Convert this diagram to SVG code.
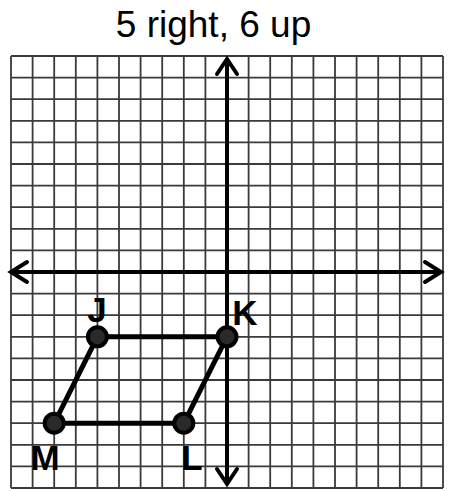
<svg xmlns="http://www.w3.org/2000/svg" width="450" height="491" viewBox="0 0 450 491">
<style>
.grid{stroke:#3a3a3a;stroke-width:1.8;fill:none}
.axis{stroke:#000;stroke-width:4;fill:none}
.arr{stroke:#000;stroke-width:4;fill:none;stroke-linecap:round;stroke-linejoin:miter}
.side{stroke:#000;stroke-width:5;fill:none}
.dot{fill:#2a2a2a;stroke:#000;stroke-width:4}
.lbl{font-family:"Liberation Sans",Arial,sans-serif;font-weight:bold;font-size:35px;fill:#000}
.title{font-family:"Liberation Sans",Arial,sans-serif;font-size:37px;fill:#000}
</style>
<rect width="450" height="491" fill="#fff"/>
<text class="title" x="213.5" y="37" text-anchor="middle">5 right, 6 up</text>
<g id="grid">
<path class="grid" d="M11 56V488M32.6 56V488M54.2 56V488M75.8 56V488M97.4 56V488M119 56V488M140.6 56V488M162.2 56V488M183.8 56V488M205.4 56V488M248.6 56V488M270.2 56V488M291.8 56V488M313.4 56V488M335 56V488M356.6 56V488M378.2 56V488M399.8 56V488M421.4 56V488M443 56V488
M11 56H443M11 77.6H443M11 99.2H443M11 120.8H443M11 142.4H443M11 164H443M11 185.6H443M11 207.2H443M11 228.8H443M11 250.4H443M11 293.6H443M11 315.2H443M11 336.8H443M11 358.4H443M11 380H443M11 401.6H443M11 423.2H443M11 444.8H443M11 466.4H443M11 488H443"/>
</g>
<g id="axes">
<line class="axis" x1="227" y1="58" x2="227" y2="485"/>
<line class="axis" x1="10" y1="272" x2="442" y2="272"/>
<path class="arr" d="M217 74L227 59L237 74"/>
<path class="arr" d="M217 469L227 484L237 469"/>
<path class="arr" d="M27 262L11 272L27 282"/>
<path class="arr" d="M425 262L441 272L425 282"/>
</g>
<g id="connectors">
<path class="side" d="M97.4 336.8H227L183.8 423.2H54.2Z"/>
</g>
<g id="J"><circle class="dot" cx="97.4" cy="336.8" r="9.5"/><text class="lbl" x="97" y="322" text-anchor="middle">J</text></g>
<g id="K"><circle class="dot" cx="227" cy="336.8" r="9.5"/><text class="lbl" x="245" y="325" text-anchor="middle">K</text></g>
<g id="L"><circle class="dot" cx="183.8" cy="423.2" r="9.5"/><text class="lbl" x="192" y="470" text-anchor="middle">L</text></g>
<g id="M"><circle class="dot" cx="54.2" cy="423.2" r="9.5"/><text class="lbl" x="45" y="470" text-anchor="middle">M</text></g>
</svg>
